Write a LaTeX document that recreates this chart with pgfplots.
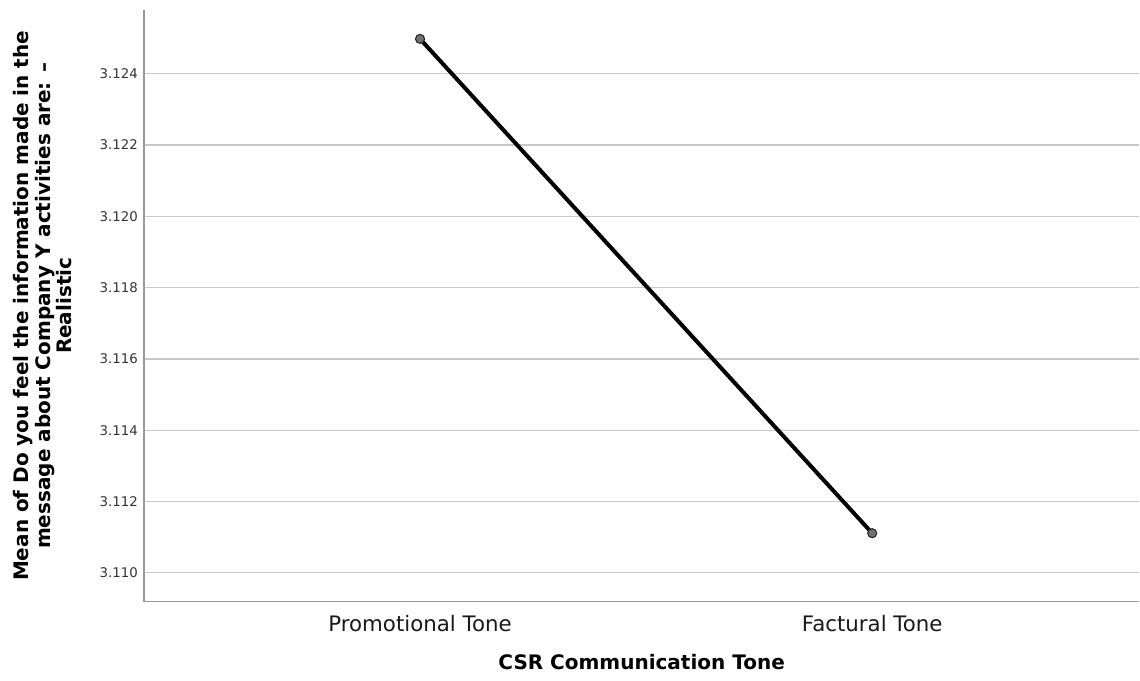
\documentclass[border=0pt]{standalone}
\usepackage{pgfplots}
\pgfplotsset{compat=1.18}
\usetikzlibrary{calc}
\usepackage{fontspec}
\setmainfont{DejaVu Sans}
\definecolor{gridc}{HTML}{C8C8C8}
\definecolor{axc}{HTML}{999999}
\definecolor{markc}{HTML}{707070}
\begin{document}
\begin{tikzpicture}
\def\px{0.75pt}
\begin{axis}[
  name=ax,
  scale only axis,
  width=747pt, height=444pt,
  xmin=-0.6106, xmax=1.5907,
  ymin=3.10919, ymax=3.12579,
  axis x line*=bottom, axis y line*=left,
  axis line style={axc, line width=1pt, -},
  xtick={0,1}, xticklabels={Promotional Tone, Factural Tone},
  ytick={3.110,3.112,3.114,3.116,3.118,3.120,3.122,3.124},
  y tick label style={/pgf/number format/fixed, /pgf/number format/fixed zerofill, /pgf/number format/precision=3},
  /pgf/number format/assume math mode=true,
  major tick length=0pt,
  ymajorgrids, grid style={gridc, line width=0.9pt},
  y tick label style={font=\fontsize{10}{12}\selectfont, text=black!80, xshift=-1pt},
  x tick label style={font=\fontsize{16}{18}\selectfont, text=black!90, yshift=-7pt},
  xlabel={\textbf{CSR Communication Tone}},
  xlabel style={font=\fontsize{15}{18}\selectfont, yshift=-10pt},
  ylabel={\textbf{Mean of Do you feel the information made in the}\\\textbf{message about Company Y activities are: --}\\\textbf{Realistic}},
  ylabel style={font=\fontsize{15}{16}\selectfont, align=center, yshift=14pt},
  clip=false,
]
\addplot[black, line width=3pt, mark=*, mark options={fill=markc, draw=black!85, line width=0.8pt, scale=1.7}]
  coordinates {(0,3.12498) (1,3.11111)};
\end{axis}
\path[use as bounding box] ($(ax.south west)+(-144*\px,-79*\px)$) rectangle ($(ax.north east)+(0,10*\px)$);
\end{tikzpicture}
\end{document}
